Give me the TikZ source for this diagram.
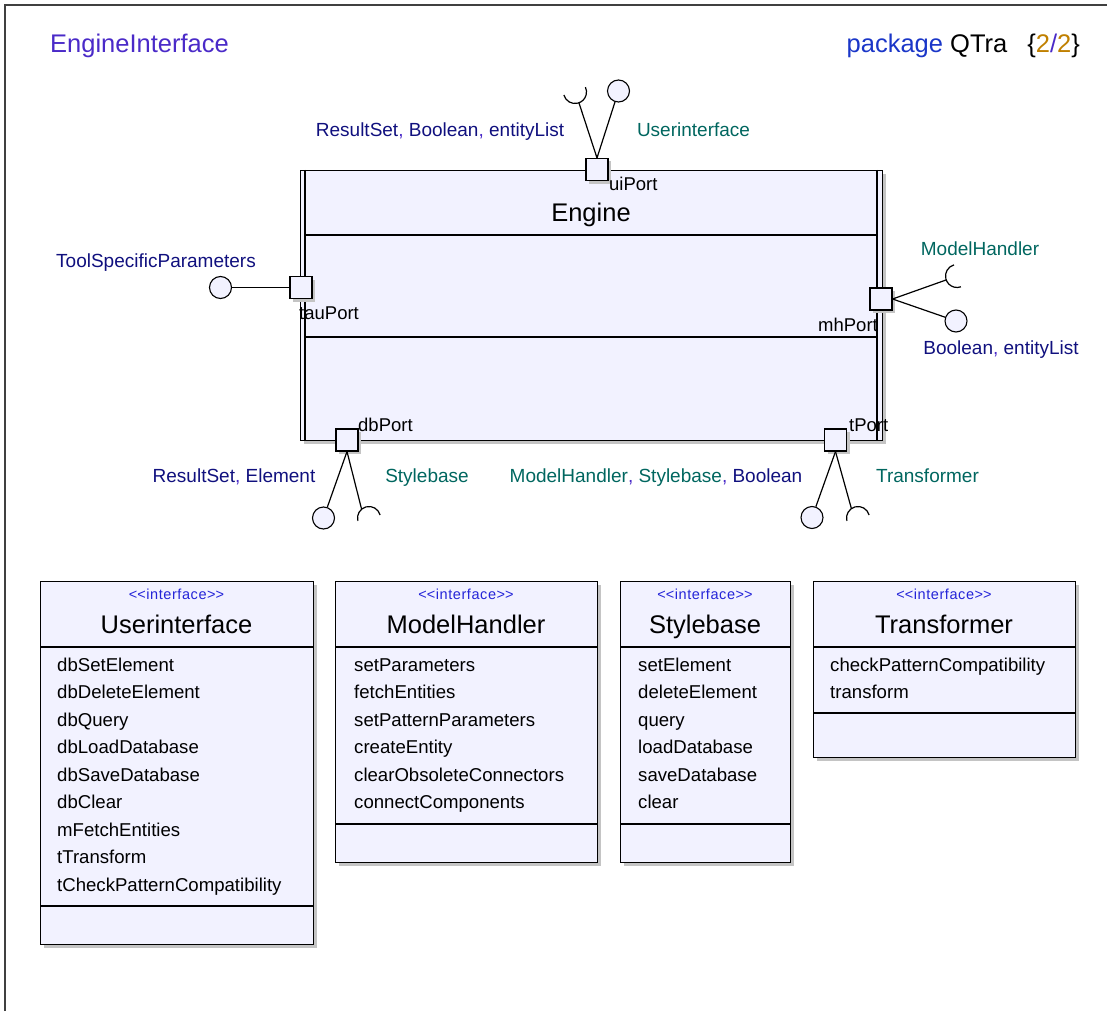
\documentclass[tikz,border=0pt]{standalone}
\usepackage{fontspec}
\setmainfont{Liberation Sans}
\usetikzlibrary{shadows,calc}
\definecolor{boxfill}{HTML}{F2F2FF}
\definecolor{navy}{HTML}{10107E}
\definecolor{tealc}{HTML}{00665F}
\definecolor{purp}{HTML}{4A2AC8}
\definecolor{pkgblue}{HTML}{1A36C8}
\definecolor{goldc}{HTML}{C08000}
\definecolor{stereo}{HTML}{2424D8}
\definecolor{framec}{HTML}{404040}
\definecolor{shadowc}{HTML}{C4C4C4}
\newcommand\fsz[1]{\fontsize{#1}{#1}\selectfont}
\begin{document}
\begin{tikzpicture}[x=1pt,y=1pt,
  shad/.style={drop shadow={shadow xshift=3pt,shadow yshift=-3pt,fill=shadowc,opacity=1}},
  umlbox/.style={draw=black,line width=1.1pt,fill=boxfill,shad,inner sep=0pt,anchor=north west},
  portbox/.style={draw=black,line width=1.1pt,fill=boxfill,shad,minimum size=22pt,inner sep=0pt},
  ballnode/.style={circle,draw=black,line width=1.1pt,fill=boxfill,minimum size=22pt,inner sep=0pt},
  conn/.style={line width=1.2pt,draw=black},
  sock/.style={line width=1.2pt,draw=black},
  lbl/.style={inner sep=0pt,font=\fsz{19},anchor=base},
  plbl/.style={inner sep=0pt,font=\fsz{18.5},anchor=base west},
  op/.style={inner sep=0pt,font=\fsz{18.6},anchor=base west},
  ster/.style={inner sep=0pt,font=\fsz{14.5}\addfontfeature{LetterSpace=4},text=stereo,anchor=base},
  cname/.style={inner sep=0pt,font=\fsz{25.5},anchor=base},
  div/.style={line width=1.1pt,draw=black}
]
\useasboundingbox (0,0) rectangle (1107,-1011);
\draw[framec,line width=1.2pt] (5,-1011) -- (5,-5) -- (1107,-5);

% header
\node[inner sep=0pt,font=\fsz{25.5},text=purp,anchor=base west] (title) at (50,-52.5) {EngineInterface};
\node[inner sep=0pt,font=\fsz{25.5},anchor=base east] (pkg) at (1080,-52.5)
  {{\color{pkgblue}package} QTra\hspace{20pt}\{{\color{goldc}2}{\color{purp}/}{\color{goldc}2}\}};

% Engine component
\node[umlbox,minimum width=582pt,minimum height=270pt] (engine) at (300,-170) {};
\draw[div] (305,-170) -- (305,-440);
\draw[div] (877,-170) -- (877,-440);
\draw[div] (305,-235) -- (877,-235);
\draw[div] (305,-337) -- (877,-337);
\node[cname] (engname) at (591,-221.5) {Engine};

% ports
\node[portbox] (uiP) at (597,-169.5) {};
\node[portbox] (tauP) at (301,-287.5) {};
\node[portbox] (mhP) at (881,-299) {};
\node[portbox] (dbP) at (347,-440) {};
\node[portbox] (tP) at (835.5,-440) {};

\node[plbl] (uiL) at (609,-190) {uiPort};
\node[plbl] (tauL) at (299,-319) {tauPort};
\node[plbl,anchor=base east] (mhL) at (878,-331.5) {mhPort};
\node[plbl] (dbL) at (358,-431.5) {dbPort};
\node[plbl] (tL) at (849,-431.5) {tPort};

% balls
\node[ballnode] (uiB) at (618.5,-91) {};
\node[ballnode] (tauB) at (220.5,-287.5) {};
\node[ballnode] (mhB) at (956,-321) {};
\node[ballnode] (dbB) at (323.5,-518) {};
\node[ballnode] (tB) at (812,-517.5) {};

% sockets
\coordinate (uiSc) at (575,-92);
\coordinate (uiS) at ($(uiSc)+(290:11.5)$);
\draw[sock] ($(uiSc)+(195:11.5)$) arc[start angle=195,end angle=385,radius=11.5pt];
\coordinate (mhSc) at (957,-276);
\coordinate (mhS) at ($(mhSc)+(200:11.5)$);
\draw[sock] ($(mhSc)+(105:11.5)$) arc[start angle=105,end angle=290,radius=11.5pt];
\coordinate (dbSc) at (369,-518);
\coordinate (dbS) at ($(dbSc)+(130:11.5)$);
\draw[sock] ($(dbSc)+(15:11.5)$) arc[start angle=15,end angle=195,radius=11.5pt];
\coordinate (tSc) at (858,-518);
\coordinate (tS) at ($(tSc)+(125:11.5)$);
\draw[sock] ($(tSc)+(15:11.5)$) arc[start angle=15,end angle=195,radius=11.5pt];

% connectors
\draw[conn] (uiP.north) -- (uiS);
\draw[conn] (uiP.north) -- (uiB);
\draw[conn] (tauP.west) -- (tauB);
\draw[conn] (mhP.east) -- (mhS);
\draw[conn] (mhP.east) -- (mhB);
\draw[conn] (dbP.south) -- (dbS);
\draw[conn] (dbP.south) -- (dbB);
\draw[conn] (tP.south) -- (tS);
\draw[conn] (tP.south) -- (tB);

% interface labels
\node[lbl] (l1) at (440,-137) {{\color{navy}ResultSet}{\color{purp},} {\color{navy}Boolean}{\color{purp},} {\color{navy}entityList}};
\node[lbl,text=tealc] (l2) at (693.5,-137) {Userinterface};
\node[lbl,text=navy] (l3) at (156,-267) {ToolSpecificParameters};
\node[lbl,text=tealc] (l4) at (980,-255) {ModelHandler};
\node[lbl] (l5) at (1001,-354) {{\color{navy}Boolean}{\color{purp},} {\color{navy}entityList}};
\node[lbl] (l6) at (234,-482) {{\color{navy}ResultSet}{\color{purp},} {\color{navy}Element}};
\node[lbl,text=tealc] (l7) at (427,-482) {Stylebase};
\node[lbl] (l8) at (656,-482) {{\color{tealc}ModelHandler}{\color{purp},} {\color{tealc}Stylebase}{\color{purp},} {\color{navy}Boolean}};
\node[lbl,text=tealc] (l9) at (927.5,-482) {Transformer};

% Userinterface
\node[umlbox,minimum width=273pt,minimum height=363pt] (uiBox) at (40,-581) {};
\draw[div] (40,-647) -- (313,-647);
\draw[div] (40,-906) -- (313,-906);
\node[ster] (uiSt) at (176.5,-599) {<\kern0pt<interface>\kern0pt>};
\node[cname] (uiN) at (176.5,-633) {Userinterface};
\foreach \t [count=\i from 0] in {dbSetElement,dbDeleteElement,dbQuery,dbLoadDatabase,dbSaveDatabase,dbClear,mFetchEntities,tTransform,tCheckPatternCompatibility}
  \node[op] (uiOp\i) at (57,{-671-27.5*\i}) {\t};

% ModelHandler
\node[umlbox,minimum width=262pt,minimum height=281pt] (mhBox) at (335,-581) {};
\draw[div] (335,-647) -- (597,-647);
\draw[div] (335,-824) -- (597,-824);
\node[ster] (mhSt) at (466,-599) {<\kern0pt<interface>\kern0pt>};
\node[cname] (mhN) at (466,-633) {ModelHandler};
\foreach \t [count=\i from 0] in {setParameters,fetchEntities,setPatternParameters,createEntity,clearObsoleteConnectors,connectComponents}
  \node[op] (mhOp\i) at (354,{-671-27.5*\i}) {\t};

% Stylebase
\node[umlbox,minimum width=170pt,minimum height=281pt] (sbBox) at (620,-581) {};
\draw[div] (620,-647) -- (790,-647);
\draw[div] (620,-824) -- (790,-824);
\node[ster] (sbSt) at (705,-599) {<\kern0pt<interface>\kern0pt>};
\node[cname] (sbN) at (705,-633) {Stylebase};
\foreach \t [count=\i from 0] in {setElement,deleteElement,query,loadDatabase,saveDatabase,clear}
  \node[op] (sbOp\i) at (638,{-671-27.5*\i}) {\t};

% Transformer
\node[umlbox,minimum width=262pt,minimum height=176pt] (trBox) at (813,-581) {};
\draw[div] (813,-647) -- (1075,-647);
\draw[div] (813,-713) -- (1075,-713);
\node[ster] (trSt) at (944,-599) {<\kern0pt<interface>\kern0pt>};
\node[cname] (trN) at (944,-633) {Transformer};
\foreach \t [count=\i from 0] in {checkPatternCompatibility,transform}
  \node[op] (trOp\i) at (830,{-671-27.5*\i}) {\t};
\end{tikzpicture}
\end{document}
